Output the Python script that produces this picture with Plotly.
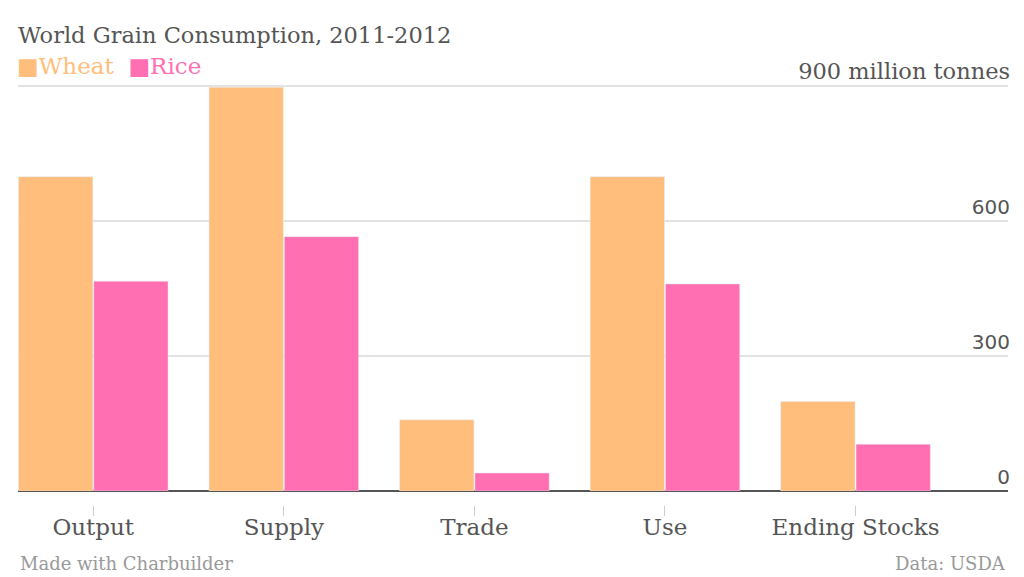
import plotly.graph_objects as go

# data (million tonnes, 2011-2012)
categories = ["Output", "Supply", "Trade", "Use", "Ending Stocks"]
wheat = [698, 897, 158, 698, 199]
rice = [466, 565, 40, 460, 104]
y_ticks = [0, 300, 600, 900]
y_ticklabels = ["0", "300", "600",
                "<span style='font-family:DejaVu Serif;font-size:22.5px'>900 million tonnes</span>"]

WHEAT_C = "#FFBE7B"
RICE_C = "#FF6FB1"
SERIF = "DejaVu Serif"
GREY = "#555555"

fig = go.Figure()
fig.add_trace(go.Bar(x=categories, y=wheat, name="Wheat", marker_color=WHEAT_C))
fig.add_trace(go.Bar(x=categories, y=rice, name="Rice", marker_color=RICE_C))

W, H = 1024, 577
ml, mr, mt, mb = 18, 16, 84, 60
plot_h = H - mt - mb

fig.update_layout(
    width=W, height=H,
    margin=dict(l=ml, r=mr, t=mt, b=mb, autoexpand=False),
    paper_bgcolor="white", plot_bgcolor="white",
    barmode="group", bargap=0.21, bargroupgap=0.013,
    title=dict(text="World Grain Consumption, 2011-2012",
               font=dict(family=SERIF, size=22.5, color=GREY),
               x=ml / W, xref="container", xanchor="left",
               y=1 - 35 / H, yref="container", yanchor="middle"),
    showlegend=False,
)

# legend drawn as a line of text, like the original
legend_text = ("<span style='color:%s'>■Wheat</span>  "
               "<span style='color:%s'>■Rice</span>" % (WHEAT_C, RICE_C))
fig.add_annotation(text=legend_text, xref="paper", yref="paper",
                   x=0, y=1 + (mt - 66) / plot_h, xanchor="left", yanchor="middle",
                   xshift=-3, showarrow=False,
                   font=dict(family=SERIF, size=23))

fig.update_xaxes(
    range=[-0.395, 4.80],
    anchor="free", position=(H - mb - 505) / plot_h,
    showline=False, showgrid=False, zeroline=False,
    ticks="outside", ticklen=10, tickwidth=1, tickcolor="#cccccc",
    ticklabelstandoff=-9,
    tickfont=dict(family=SERIF, size=23, color=GREY),
)
fig.update_yaxes(
    range=[0, 904],
    domain=[(H - mb - 491) / plot_h, 1],
    side="right", ticklabelposition="inside top", ticklabeloverflow="allow",
    ticklabelstandoff=-5,
    tickvals=y_ticks, ticktext=y_ticklabels,
    tickfont=dict(family="DejaVu Sans", size=20, color=GREY),
    showgrid=True, gridcolor="#e2e2e2", gridwidth=1.5,
    zeroline=True, zerolinecolor="#555555", zerolinewidth=2,
    showline=False, ticks="",
)

fig.add_annotation(text="Made with Charbuilder", xref="paper", yref="paper",
                   x=0, y=-(563 - (H - mb)) / plot_h, xanchor="left", yanchor="middle",
                   showarrow=False, font=dict(family=SERIF, size=18, color="#999999"))
fig.add_annotation(text="Data: USDA", xref="paper", yref="paper",
                   x=1, y=-(563 - (H - mb)) / plot_h, xanchor="right", yanchor="middle",
                   showarrow=False, font=dict(family=SERIF, size=18, color="#999999"))

fig.write_html("out.html", config={"displayModeBar": False},
               post_script="document.body.style.margin='0';")
